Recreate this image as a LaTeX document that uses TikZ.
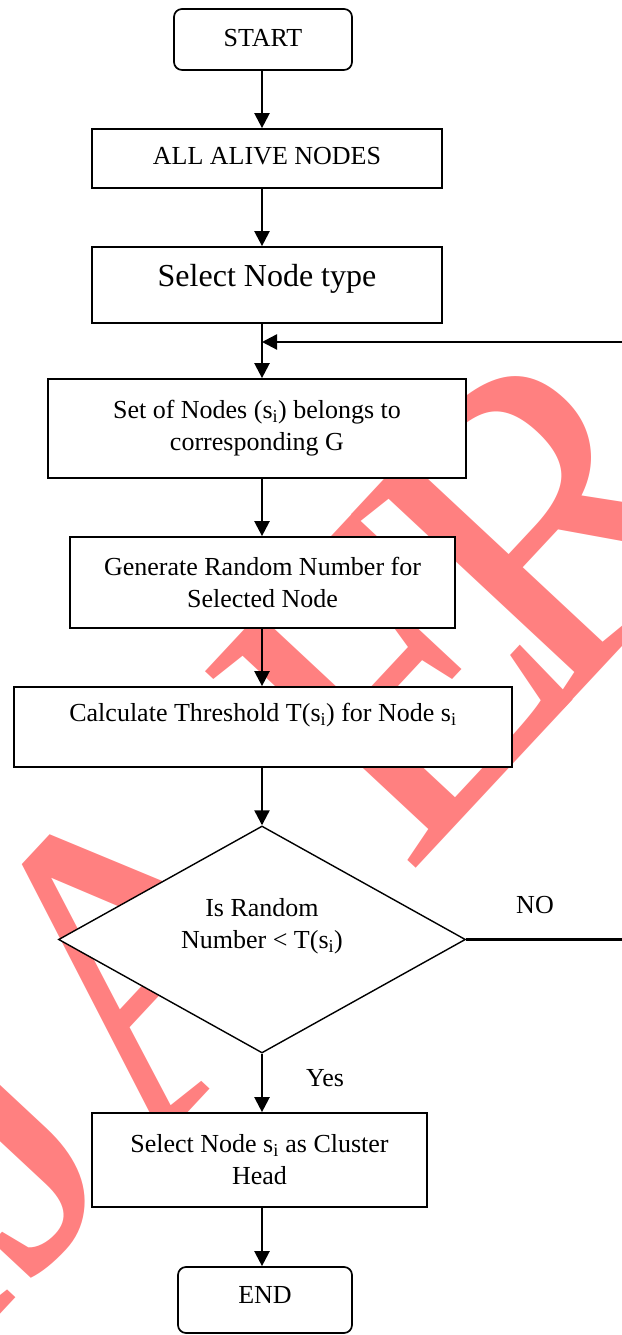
\documentclass[tikz,border=0pt]{standalone}
\usepackage{fontspec}
\setmainfont{Liberation Serif}
\usetikzlibrary{shapes.geometric,arrows.meta,calc}

\definecolor{wmark}{RGB}{255,128,128}

\begin{document}
\begin{tikzpicture}[x=1pt,y=1pt,
  box/.style={draw=black, line width=1.7pt, fill=white, rectangle, inner sep=0pt,
              align=center, font=\fontsize{26}{32}\selectfont},
  term/.style={box, rounded corners=8pt},
  decision/.style={box, diamond, aspect=1.8, line width=1.4pt},
  flow/.style={line width=2.3pt, -{Triangle[length=15pt,width=15pt]}},
  lbl/.style={font=\fontsize{26}{32}\selectfont, inner sep=0pt, anchor=base}
]
\useasboundingbox (0,0) rectangle (621,1335);

% journal watermark behind the chart
\node[text=wmark, anchor=base west, rotate=47, inner sep=0pt,
      font=\fontsize{440}{440}\selectfont] (wm) at (-74,-58.5)
  {IJA\kern70pt E\kern-55pt R};

% steps
\node[term, minimum width=178pt, minimum height=61pt, text height=17pt, text depth=2pt]
  (start) at (263,1295.5) {START};
\node[box, minimum width=350pt, minimum height=59pt, text height=17pt, text depth=4pt]
  (alive) at (267,1176.5) {ALL ALIVE NODES};
\node[box, minimum width=350pt, minimum height=76pt, font=\fontsize{32}{38}\selectfont,
      text height=22pt, text depth=18pt]
  (type) at (267,1050) {Select Node type};
\node[box, minimum width=418pt, minimum height=99pt]
  (set) at (257,906.5) {Set of Nodes (s\textsubscript{i}) belongs to\\corresponding G};
\node[box, minimum width=385pt, minimum height=91pt]
  (gen) at (262.5,752.5) {Generate Random Number for\\Selected Node};
\node[box, minimum width=498pt, minimum height=80pt, text height=18pt, text depth=28pt]
  (calc) at (263,608) {Calculate Threshold T(s\textsubscript{i}) for Node s\textsubscript{i}};
\node[decision, minimum width=407pt, minimum height=227pt]
  (dec) at (262,395.5) {Is Random\\Number < T(s\textsubscript{i})\\\mbox{}};
\node[box, minimum width=335pt, minimum height=94pt]
  (sel) at (259.5,175) {Select Node s\textsubscript{i} as Cluster\\Head};
\node[term, minimum width=174pt, minimum height=66pt, text height=17pt, text depth=9pt]
  (end) at (265,35) {END};

% branch labels
\node[lbl] (no) at (535,421) {NO};
\node[lbl] (yes) at (325,248) {Yes};

% helper points
\coordinate (spine) at (262,0);
\coordinate (join) at (262,993);
\coordinate (loop) at (623,993);

% connectors
\draw[flow] (start.south -| spine) -- (alive.north -| spine);
\draw[flow] (alive.south -| spine) -- (type.north -| spine);
\draw[flow] (type.south -| spine) -- (set.north -| spine);
\draw[flow] (set.south -| spine) -- (gen.north -| spine);
\draw[flow] (gen.south -| spine) -- (calc.north -| spine);
\draw[flow] (calc.south -| spine) -- (dec.north);
\draw[flow] (dec.south) -- (sel.north -| spine);
\draw[flow] (sel.south -| spine) -- (end.north -| spine);
\draw[flow] (dec.east) -- (loop |- dec.east) -- (loop) -- (join);
\end{tikzpicture}
\end{document}
